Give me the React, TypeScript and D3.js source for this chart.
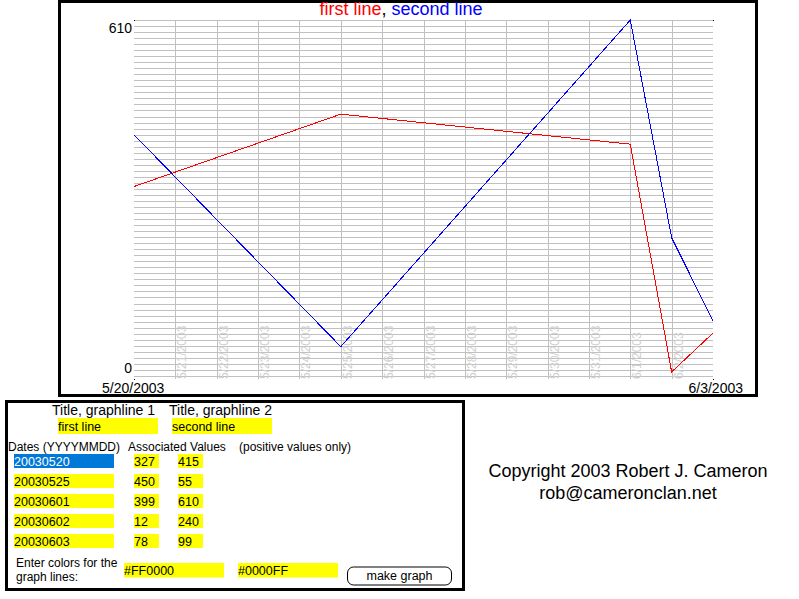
import * as d3 from "d3";
import * as React from "react";

// chart data
const dates = ["20030520", "20030525", "20030601", "20030602", "20030603"];
const firstLine = [327, 450, 399, 12, 78];
const secondLine = [415, 55, 610, 240, 99];
const lineTitles = ["first line", "second line"];
const lineColors = ["#FF0000", "#0000FF"];
const yTicks = [610, 0];
const gridStep = 10.25;

const FONT = "'Liberation Sans', Arial, Helvetica, sans-serif";
const GRID = "#c0c0c0";

const parse = d3.timeParse("%Y%m%d");
const fmt = d3.timeFormat("%-m/%-d/%Y");

export default function App() {
  const days = dates.map((d) => parse(d) as Date);
  const x = d3
    .scaleTime()
    .domain([days[0], days[days.length - 1]])
    .range([134, 713]);
  const y = d3.scaleLinear().domain([0, 610]).range([379, 20]);

  const x0 = x.range()[0],
    x1 = x.range()[1];
  const yTop = y(610),
    yBot = y(0);

  const interior = d3.timeDay.range(days[0], days[days.length - 1]).slice(1);
  const hGrid = d3.range(0, 60).map((k) => 610 - k * gridStep);

  const line = d3
    .line<number>()
    .x((_, i) => x(days[i]))
    .y((v) => y(v));

  const series = [firstLine, secondLine];

  const rowTop = (i: number) => 454 + i * 20;

  return (
    <svg
      width={799}
      height={599}
      style={{ position: "absolute", left: 0, top: 0, background: "#fff" }}
      fontFamily={FONT}
    >
      {/* chart frame */}
      <rect x={59.5} y={1.5} width={697} height={394} fill="#fff" stroke="#000" strokeWidth={3} />

      {/* title */}
      <text x={401} y={15} fontSize={18} textAnchor="middle">
        <tspan fill={lineColors[0]}>{lineTitles[0]}</tspan>
        <tspan fill="#000">, </tspan>
        <tspan fill={lineColors[1]}>{lineTitles[1]}</tspan>
      </text>

      {/* grid */}
      <g stroke={GRID} strokeWidth={1} shapeRendering="crispEdges">
        {hGrid.map((v, i) => (
          <line key={i} x1={x0} x2={x1} y1={Math.round(y(v)) + 0.5} y2={Math.round(y(v)) + 0.5} />
        ))}
        {interior.map((d, i) => (
          <line
            key={"v" + i}
            x1={Math.round(x(d)) + 0.5}
            x2={Math.round(x(d)) + 0.5}
            y1={yTop}
            y2={yBot}
          />
        ))}
      </g>

      {/* vertical day labels */}
      {interior.map((d, i) => {
        const gx = Math.round(x(d)) + 11;
        return (
          <text
            key={"t" + i}
            transform={`translate(${gx},${yBot}) rotate(-90)`}
            fontSize={12}
            fill="#d0d0d0"
          >
            {fmt(d)}
          </text>
        );
      })}

      {/* corner dots */}
      {[x0, x1].map((cx) =>
        [yTop, yBot].map((cy) => (
          <rect key={cx + "_" + cy} x={cx} y={cy} width={1} height={1} fill="#000" />
        ))
      )}

      {/* y labels */}
      <text x={132} y={y(yTicks[0]) + 13} fontSize={14} textAnchor="end">
        {yTicks[0]}
      </text>
      <text x={132} y={y(yTicks[1]) - 6} fontSize={14} textAnchor="end">
        {yTicks[1]}
      </text>

      {/* x end labels */}
      <text x={102} y={392.5} fontSize={14}>
        {fmt(days[0])}
      </text>
      <text x={743} y={392.5} fontSize={14} textAnchor="end">
        {fmt(days[days.length - 1])}
      </text>

      {/* data lines */}
      {series.map((s, i) => (
        <path
          key={i}
          d={line(s) || ""}
          fill="none"
          stroke={lineColors[i]}
          strokeWidth={1}
          shapeRendering="crispEdges"
        />
      ))}

      {/* form box */}
      <rect x={6.5} y={401.5} width={457} height={188} fill="#fff" stroke="#000" strokeWidth={3} />
      <text x={52} y={415} fontSize={14}>Title, graphline 1</text>
      <text x={169} y={415} fontSize={14}>Title, graphline 2</text>
      {lineTitles.map((t, i) => (
        <g key={"lt" + i}>
          <rect x={58 + i * 114} y={418} width={100} height={16} fill="#ffff00" />
          <text x={58 + i * 114} y={431} fontSize={12.5}>
            {t}
          </text>
        </g>
      ))}
      <text x={8} y={451} fontSize={12}>Dates (YYYYMMDD)</text>
      <text x={128} y={451} fontSize={12}>Associated Values</text>
      <text x={239} y={451} fontSize={12}>(positive values only)</text>

      {dates.map((d, i) => {
        const t = rowTop(i);
        const sel = i === 0;
        return (
          <g key={"r" + i} fontSize={12.5}>
            <rect x={14} y={t} width={100} height={14} fill={sel ? "#0078D7" : "#ffff00"} />
            <text x={14} y={t + 11.5} fill={sel ? "#fff" : "#000"}>
              {d}
            </text>
            <rect x={134} y={t} width={25} height={14} fill="#ffff00" />
            <text x={134} y={t + 11.5}>{firstLine[i]}</text>
            <rect x={178} y={t} width={25} height={14} fill="#ffff00" />
            <text x={178} y={t + 11.5}>{secondLine[i]}</text>
          </g>
        );
      })}

      <text x={16} y={567} fontSize={12}>Enter colors for the</text>
      <text x={16} y={581} fontSize={12}>graph lines:</text>
      {lineColors.map((c, i) => (
        <g key={"c" + i}>
          <rect x={124 + i * 114} y={563} width={100} height={14.5} fill="#ffff00" />
          <text x={124 + i * 114} y={575} fontSize={12.5}>
            {c}
          </text>
        </g>
      ))}
      <rect x={347.5} y={567} width={104} height={18} rx={6} fill="#fff" stroke="#000" />
      <text x={399.5} y={580} fontSize={12.5} textAnchor="middle">
        make graph
      </text>

      {/* copyright */}
      <text x={628} y={477} fontSize={18} textAnchor="middle">
        Copyright 2003 Robert J. Cameron
      </text>
      <text x={628} y={499} fontSize={18} textAnchor="middle">
        rob@cameronclan.net
      </text>
    </svg>
  );
}
